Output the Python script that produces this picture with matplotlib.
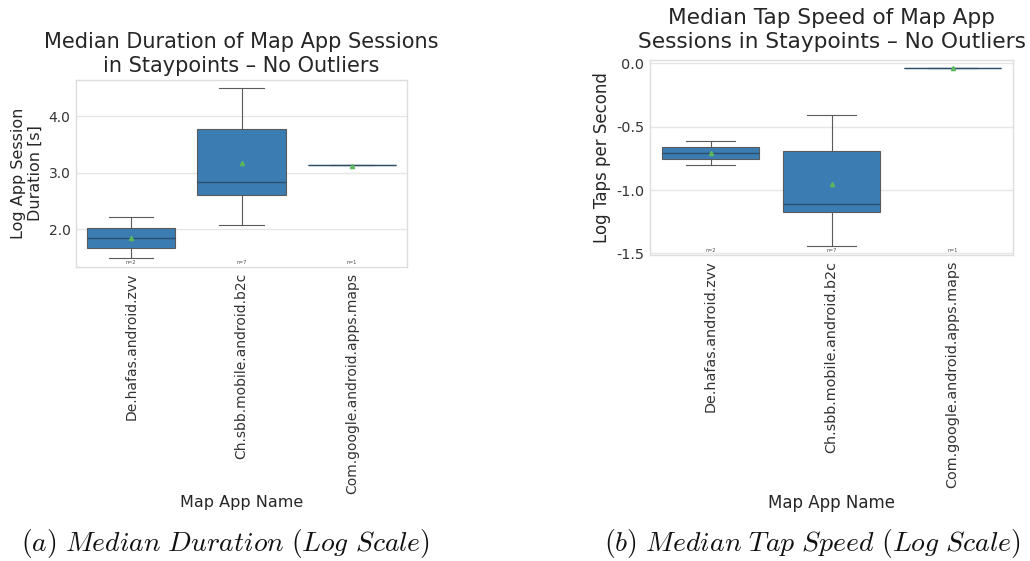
import matplotlib
matplotlib.use("Agg")
import matplotlib.pyplot as plt

plt.rcParams["mathtext.fontset"] = "cm"

apps = ["De.hafas.android.zvv", "Ch.sbb.mobile.android.b2c", "Com.google.android.apps.maps"]
counts = [2, 7, 1]

# log session duration: (whislo, q1, med, q3, whishi, mean)
dur_whislo = [1.49, 2.08, 3.13]
dur_q1 = [1.67, 2.60, 3.13]
dur_med = [1.85, 2.835, 3.13]
dur_q3 = [2.03, 3.78, 3.13]
dur_whishi = [2.21, 4.50, 3.13]
dur_mean = [1.85, 3.165, 3.12]

# log taps per second
tap_whislo = [-0.805, -1.442, -0.04]
tap_q1 = [-0.758, -1.171, -0.04]
tap_med = [-0.71, -1.108, -0.04]
tap_q3 = [-0.658, -0.69, -0.04]
tap_whishi = [-0.611, -0.408, -0.04]
tap_mean = [-0.71, -0.955, -0.04]

BOX = "#3b7db2"
LINE = "#5a5a5a"


def stats(lo, q1, med, q3, hi, mean):
    return [dict(whislo=a, q1=b, med=c, q3=d, whishi=e, mean=f, fliers=[])
            for a, b, c, d, e, f in zip(lo, q1, med, q3, hi, mean)]


def draw(ax, st, title, ylabel, ylim, yticks, fs=1.0, tpad=6, xpad=8):
    ax.bxp(st, positions=range(len(st)), widths=0.8, patch_artist=True,
           showmeans=True, showfliers=False, capwidths=0.4,
           boxprops=dict(facecolor=BOX, edgecolor=LINE, linewidth=0.8),
           whiskerprops=dict(color=LINE, linewidth=0.8),
           capprops=dict(color=LINE, linewidth=0.8),
           medianprops=dict(color="#2c4f6e", linewidth=1.0),
           meanprops=dict(marker="^", markerfacecolor="#5cb85c",
                          markeredgecolor="#5cb85c", markersize=3))
    ax.set_xlim(-0.5, len(st) - 0.5)
    ax.set_ylim(*ylim)
    ax.set_yticks(yticks)
    ax.set_yticklabels([f"{t:.1f}" for t in yticks], fontsize=10 * fs, color="#333333")
    ax.set_xticks(range(len(st)))
    ax.set_xticklabels(apps, rotation=90, fontsize=10 * fs, color="#333333")
    ax.tick_params(length=0, pad=4)
    ax.yaxis.grid(True, color="#e6e6e6", linewidth=1.0)
    ax.xaxis.grid(False)
    ax.set_axisbelow(True)
    for s in ax.spines.values():
        s.set_color("#dddddd")
        s.set_linewidth(1.0)
    ax.set_title(title, fontsize=15 * fs, color="#262626", pad=tpad)
    ax.set_ylabel(ylabel, fontsize=11.5 * fs, color="#262626", labelpad=4,
                  multialignment="center")
    ax.set_xlabel("Map App Name", fontsize=11.5 * fs, color="#262626", labelpad=xpad)
    for i, n in enumerate(counts):
        ax.text(i, 0.012, f"n={n}", transform=ax.get_xaxis_transform(),
                ha="center", va="bottom", fontsize=3.5, color="#444444")


W, H = 1030, 561
fig = plt.figure(figsize=(W / 100, H / 100), dpi=100)
ax1 = fig.add_axes([76 / W, 1 - 267 / H, 331 / W, 187 / H])
ax2 = fig.add_axes([650 / W, 1 - 255 / H, 363 / W, 195 / H])

draw(ax1, stats(dur_whislo, dur_q1, dur_med, dur_q3, dur_whishi, dur_mean),
     "Median Duration of Map App Sessions\nin Staypoints – No Outliers",
     "Log App Session\nDuration [s]", (1.333, 4.64), [2.0, 3.0, 4.0], xpad=1)
draw(ax2, stats(tap_whislo, tap_q1, tap_med, tap_q3, tap_whishi, tap_mean),
     "Median Tap Speed of Map App\nSessions in Staypoints – No Outliers",
     "Log Taps per Second", (-1.513, 0.026), [-1.5, -1.0, -0.5, 0.0],
     fs=1.04, tpad=9, xpad=4)

fig.text(225 / W, 1 - 543 / H, r"$\mathit{(a)\ Median\ Duration\ (Log\ Scale)}$",
         ha="center", va="center", fontsize=19.9, color="#111111")
fig.text(812 / W, 1 - 543 / H, r"$\mathit{(b)\ Median\ Tap\ Speed\ (Log\ Scale)}$",
         ha="center", va="center", fontsize=20, color="#111111")

fig.savefig("out.png", dpi=100)
